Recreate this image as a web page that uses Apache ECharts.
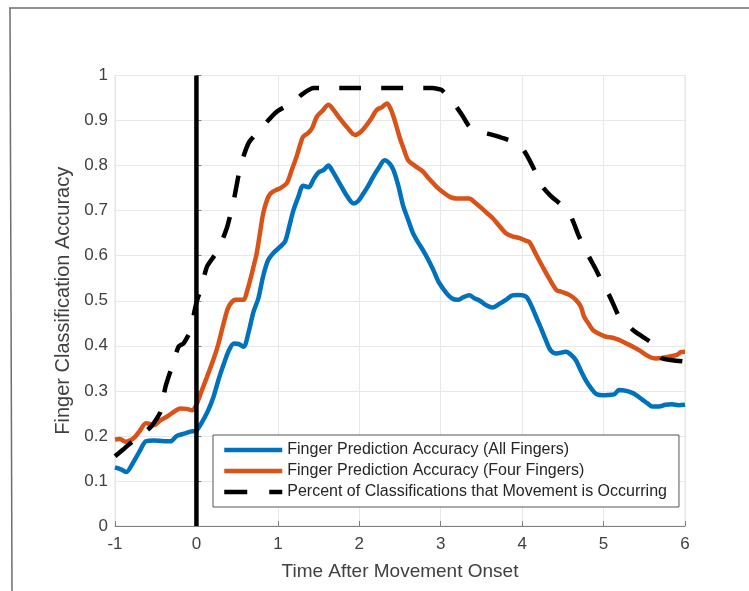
<!DOCTYPE html>
<html>
<head>
<meta charset="utf-8">
<script src="https://cdn.jsdelivr.net/npm/echarts@6/dist/echarts.min.js"></script>
<style>
  html, body { margin: 0; padding: 0; background: #fff; }
  #chart { width: 749px; height: 591px; }
</style>
</head>
<body>
<div id="chart"></div>
<script>
// time after movement onset (s) and accuracy
const allX = [-1.00,-0.92,-0.86,-0.78,-0.70,-0.62,-0.52,-0.40,-0.32,-0.24,-0.15,-0.06,0.00,0.06,0.14,0.21,0.28,0.34,0.40,0.46,0.52,0.58,0.64,0.70,0.76,0.82,0.88,0.94,1.03,1.09,1.14,1.19,1.25,1.31,1.38,1.44,1.50,1.56,1.62,1.68,1.76,1.84,1.93,1.99,2.05,2.11,2.17,2.24,2.31,2.37,2.42,2.48,2.54,2.60,2.66,2.72,2.78,2.85,2.91,2.98,3.07,3.14,3.21,3.28,3.35,3.42,3.48,3.56,3.64,3.72,3.80,3.88,3.95,4.05,4.11,4.17,4.23,4.29,4.35,4.42,4.54,4.60,4.66,4.72,4.78,4.85,4.91,5.00,5.07,5.13,5.19,5.28,5.36,5.42,5.48,5.54,5.60,5.68,5.76,5.84,5.92,6.00];
const allY = [0.130,0.125,0.120,0.140,0.165,0.188,0.190,0.188,0.188,0.200,0.205,0.210,0.212,0.228,0.255,0.287,0.330,0.362,0.390,0.405,0.404,0.398,0.430,0.475,0.505,0.555,0.590,0.605,0.620,0.632,0.665,0.700,0.730,0.755,0.752,0.770,0.785,0.790,0.800,0.785,0.760,0.735,0.716,0.722,0.738,0.755,0.775,0.795,0.812,0.805,0.790,0.755,0.710,0.680,0.650,0.630,0.613,0.590,0.568,0.540,0.517,0.505,0.502,0.508,0.512,0.505,0.500,0.490,0.485,0.493,0.502,0.512,0.513,0.509,0.490,0.465,0.440,0.413,0.390,0.383,0.387,0.380,0.368,0.345,0.324,0.305,0.293,0.290,0.291,0.292,0.302,0.300,0.295,0.288,0.280,0.272,0.265,0.265,0.269,0.270,0.268,0.269];

const fourX = [-1.00,-0.94,-0.87,-0.77,-0.70,-0.62,-0.56,-0.52,-0.44,-0.36,-0.28,-0.20,-0.12,-0.05,0.00,0.06,0.13,0.20,0.26,0.32,0.38,0.42,0.48,0.54,0.58,0.62,0.66,0.70,0.74,0.78,0.82,0.87,0.91,0.97,1.03,1.11,1.17,1.23,1.28,1.31,1.37,1.42,1.48,1.55,1.62,1.69,1.76,1.85,1.95,2.02,2.09,2.15,2.21,2.28,2.34,2.38,2.42,2.46,2.50,2.55,2.60,2.68,2.78,2.86,2.95,3.05,3.12,3.19,3.27,3.35,3.42,3.48,3.56,3.64,3.72,3.80,3.88,3.97,4.05,4.09,4.17,4.25,4.33,4.42,4.48,4.58,4.66,4.72,4.76,4.82,4.87,4.95,5.03,5.11,5.19,5.28,5.36,5.44,5.52,5.58,5.64,5.72,5.80,5.90,5.95,6.00];
const fourY = [0.192,0.193,0.187,0.195,0.210,0.228,0.226,0.224,0.235,0.243,0.253,0.261,0.260,0.257,0.270,0.298,0.331,0.365,0.398,0.440,0.480,0.494,0.502,0.502,0.502,0.520,0.546,0.575,0.605,0.650,0.694,0.725,0.738,0.745,0.750,0.761,0.790,0.820,0.850,0.864,0.872,0.883,0.909,0.922,0.935,0.922,0.905,0.885,0.868,0.875,0.890,0.905,0.923,0.930,0.938,0.928,0.909,0.885,0.860,0.835,0.812,0.800,0.787,0.770,0.753,0.738,0.730,0.727,0.727,0.727,0.718,0.709,0.696,0.683,0.666,0.650,0.643,0.639,0.633,0.630,0.603,0.576,0.550,0.524,0.520,0.513,0.502,0.487,0.465,0.448,0.435,0.426,0.420,0.418,0.413,0.405,0.398,0.390,0.380,0.374,0.372,0.373,0.376,0.380,0.386,0.387];

const moveX = [-1.00,-0.90,-0.79,-0.67,-0.56,-0.50,-0.44,-0.38,-0.30,-0.22,-0.16,-0.11,-0.07,-0.02,0.01,0.05,0.13,0.20,0.27,0.33,0.38,0.46,0.54,0.64,0.78,0.88,0.99,1.10,1.19,1.31,1.44,2.00,2.50,2.90,3.01,3.10,3.19,3.27,3.35,3.45,3.56,3.70,3.83,3.92,3.99,4.06,4.13,4.19,4.25,4.35,4.46,4.53,4.60,4.65,4.70,4.76,4.82,4.89,4.95,5.01,5.07,5.13,5.19,5.28,5.36,5.48,5.60,5.66,5.72,5.85,6.00];
const moveY = [0.155,0.170,0.187,0.203,0.220,0.235,0.254,0.309,0.354,0.398,0.405,0.420,0.435,0.480,0.502,0.524,0.576,0.595,0.613,0.640,0.665,0.724,0.798,0.850,0.879,0.900,0.920,0.932,0.942,0.960,0.972,0.972,0.972,0.972,0.968,0.950,0.931,0.910,0.887,0.878,0.872,0.865,0.857,0.852,0.842,0.822,0.798,0.775,0.753,0.733,0.716,0.702,0.687,0.665,0.642,0.620,0.598,0.575,0.553,0.530,0.512,0.488,0.465,0.450,0.435,0.420,0.405,0.388,0.372,0.368,0.365];

const onsetX = [0, 0];
const onsetY = [0, 1];

const seriesNames = [
  'Finger Prediction Accuracy (All Fingers)',
  'Finger Prediction Accuracy (Four Fingers)',
  'Percent of Classifications that Movement is Occurring'
];

function pairs(xs, ys) {
  return xs.map((x, i) => [x, ys[i]]);
}

const chart = echarts.init(document.getElementById('chart'));
const fontFam = '"Liberation Sans", Arial, sans-serif';

chart.setOption({
  animation: false,
  backgroundColor: '#ffffff',
  textStyle: { fontFamily: fontFam },
  graphic: [
    { type: 'line', shape: { x1: 9, y1: 8, x2: 749, y2: 8 }, style: { stroke: '#6e6e6e', lineWidth: 1.5 } },
    { type: 'line', shape: { x1: 10, y1: 8, x2: 12, y2: 591 }, style: { stroke: '#6e6e6e', lineWidth: 1.5 } }
  ],
  grid: {
    left: 115, right: 64, top: 75.5, bottom: 65,
    show: true, borderColor: '#e3e3e3', borderWidth: 1
  },
  legend: {
    data: [
      { name: seriesNames[0] },
      { name: seriesNames[1] },
      { name: seriesNames[2], lineStyle: { type: [23, 22], cap: 'butt' } }
    ],
    orient: 'vertical',
    left: 213, top: 435,
    itemWidth: 58, itemHeight: 14, itemGap: 5,
    padding: [7, 12, 7, 9],
    borderColor: '#555', borderWidth: 1,
    backgroundColor: '#fff',
    itemStyle: { opacity: 0 },
    lineStyle: { width: 4.5 },
    textStyle: { fontSize: 16, lineHeight: 16, color: '#262626', fontFamily: fontFam }
  },
  xAxis: {
    type: 'value', min: -1, max: 6, interval: 1,
    name: 'Time After Movement Onset', nameLocation: 'middle', nameGap: 36,
    nameTextStyle: { fontSize: 19, color: '#404040' },
    axisLine: { show: true, onZero: false, lineStyle: { color: '#808080', width: 1 } },
    axisTick: { show: true, inside: true, length: 5, lineStyle: { color: '#808080' } },
    axisLabel: { fontSize: 17, color: '#404040', margin: 10 },
    splitLine: { show: true, lineStyle: { color: '#e8e8e8', width: 1 } }
  },
  yAxis: {
    type: 'value', min: 0, max: 1, interval: 0.1,
    name: 'Finger Classification Accuracy', nameLocation: 'middle', nameGap: 39,
    nameTextStyle: { fontSize: 20, color: '#404040' },
    axisLine: { show: true, lineStyle: { color: '#808080', width: 1 } },
    axisTick: { show: true, inside: true, length: 5, lineStyle: { color: '#808080' } },
    axisLabel: { fontSize: 17, color: '#404040', margin: 7,
      formatter: v => String(Math.round(v * 10) / 10) },
    splitLine: { show: true, lineStyle: { color: '#e8e8e8', width: 1 } }
  },
  series: [
    {
      name: seriesNames[0], type: 'line', data: pairs(allX, allY),
      showSymbol: false, symbol: 'none', smooth: 0.3,
      lineStyle: { color: '#0072BD', width: 4.5 }, itemStyle: { color: '#0072BD' }, z: 3
    },
    {
      name: seriesNames[1], type: 'line', data: pairs(fourX, fourY),
      showSymbol: false, symbol: 'none', smooth: 0.3,
      lineStyle: { color: '#D95319', width: 4.5 }, itemStyle: { color: '#D95319' }, z: 3
    },
    {
      name: seriesNames[2], type: 'line', data: pairs(moveX, moveY),
      showSymbol: false, symbol: 'none', smooth: 0.2,
      lineStyle: { color: '#000', width: 4.5, type: [22, 20], cap: 'butt' }, itemStyle: { color: '#000' }, z: 4
    },
    {
      name: 'onset', type: 'line', data: pairs(onsetX, onsetY),
      showSymbol: false, symbol: 'none',
      lineStyle: { color: '#000', width: 4.5 }, z: 5
    }
  ]
});
</script>
</body>
</html>
